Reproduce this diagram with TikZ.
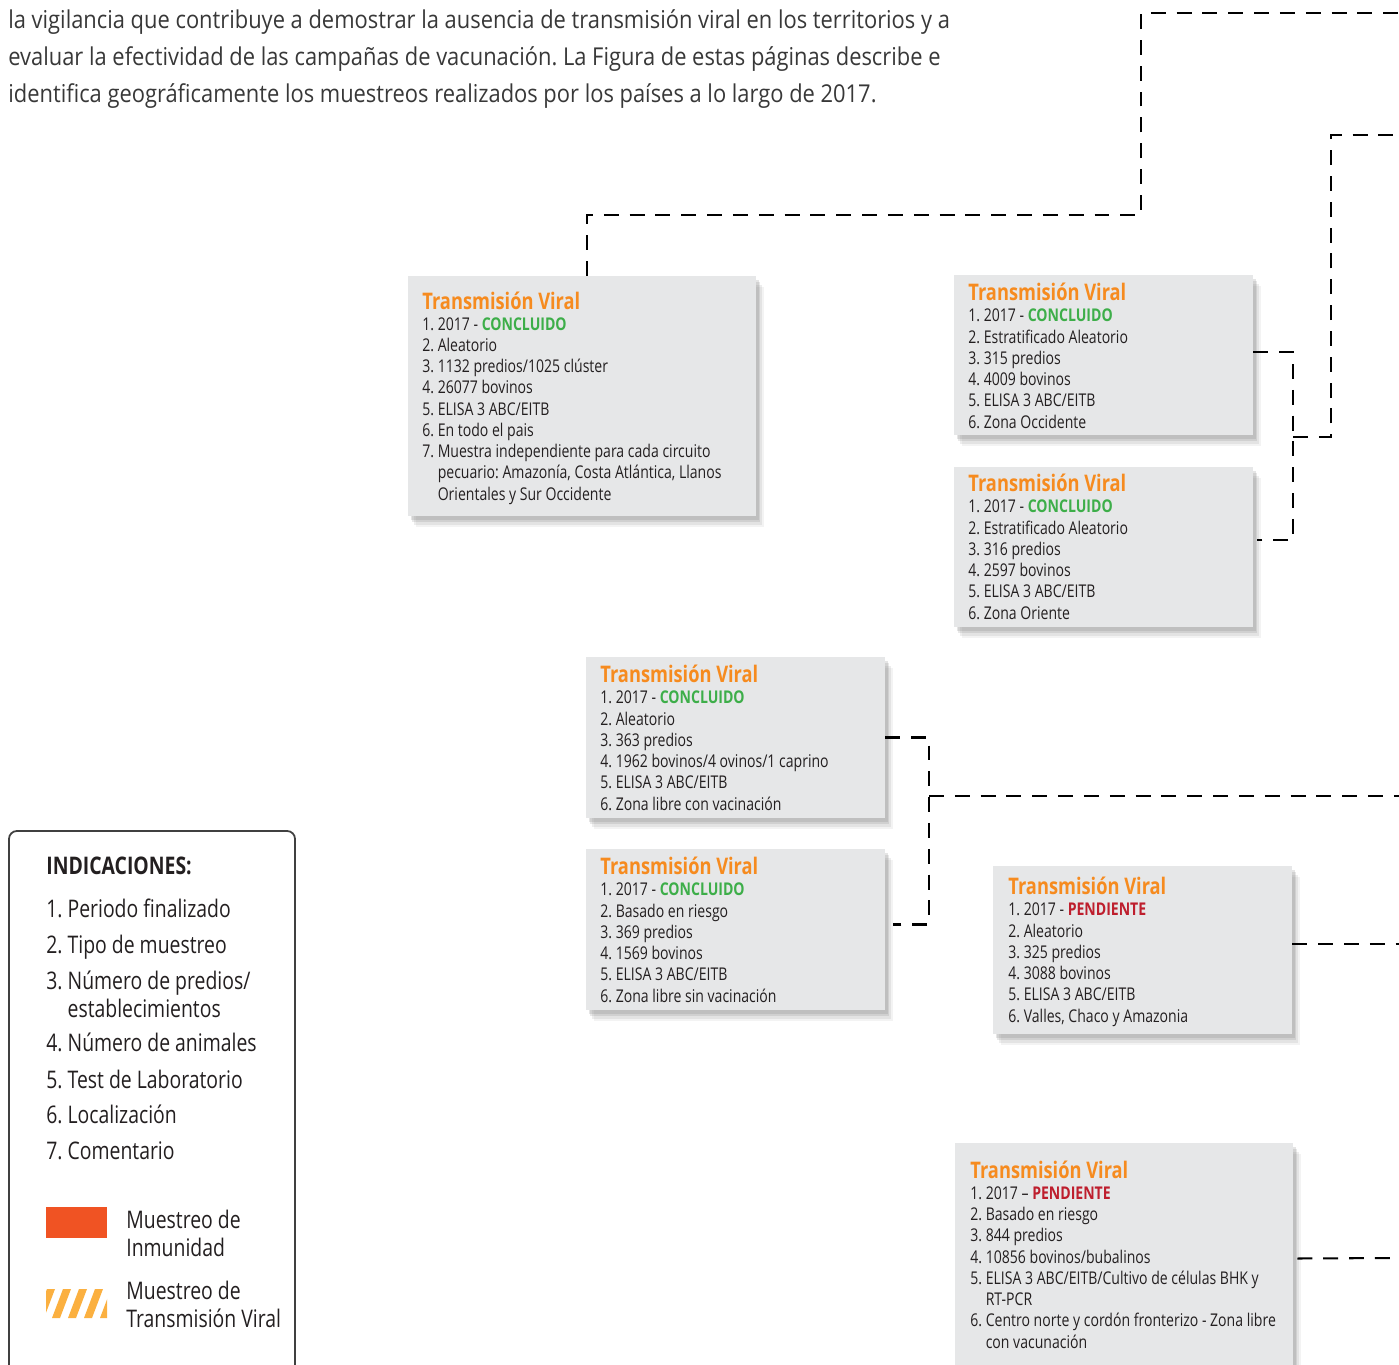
\documentclass[tikz,border=0pt]{standalone}
\usepackage{fontspec}
\setmainfont[FakeStretch=0.8]{Open Sans}
\newfontfamily\parafont[FakeStretch=0.89]{Open Sans}
\usetikzlibrary{calc,fit,shadows}
\frenchspacing

\definecolor{tvorange}{HTML}{F68B1F}
\definecolor{tvgreen}{HTML}{3DAE49}
\definecolor{tvred}{HTML}{BE1E2D}
\definecolor{boxgray}{HTML}{E6E7E8}
\definecolor{inkgray}{HTML}{231F20}
\definecolor{inmured}{HTML}{F05323}
\definecolor{stripeyellow}{HTML}{FBB040}

\newcommand{\tvtitle}{{\color{tvorange}\fontsize{13}{12}\selectfont\bfseries Transmisión Viral}}
\newcommand{\hecho}{{\color{tvgreen}\bfseries CONCLUIDO}}
\newcommand{\falta}{{\color{tvred}\bfseries PENDIENTE}}

% multi-line nodes sit on the baseline of their last line
\tikzset{
  tvbox/.style={fill=boxgray, inner sep=0pt,
    drop shadow={shadow xshift=1.5pt, shadow yshift=-2pt, opacity=0.2},
    drop shadow={shadow xshift=2.5pt, shadow yshift=-3.5pt, opacity=0.18},
    drop shadow={shadow xshift=3.5pt, shadow yshift=-5pt, opacity=0.14},
    drop shadow={shadow xshift=4.5pt, shadow yshift=-6pt, opacity=0.09}},
  tvtext/.style={anchor=base west, align=left, inner sep=0pt, text=inkgray,
    font=\fontsize{10}{12.07}\selectfont},
  link/.style={line width=1.15pt, dash pattern=on 8.5pt off 6.2pt},
  legtext/.style={anchor=base west, align=left, inner sep=0pt, text=inkgray,
    font=\fontsize{13.8}{15.9}\selectfont},
  paratext/.style={anchor=base west, inner sep=0pt, text=black!78,
    font=\parafont\fontsize{14}{21}\selectfont}
}

\begin{document}
\begin{tikzpicture}[x=0.02cm,y=-0.02cm]
\useasboundingbox (0,0) rectangle (1399,1365);
\fill[white] (0,0) rectangle (1399,1365);
\clip (0,0) rectangle (1399,1365);

% text above the figure
\node[paratext] (par1) at (8,29) {la vigilancia que contribuye a demostrar la ausencia de transmisión viral en los territorios y a};
\node[paratext] (par2) at (8,66) {evaluar la efectividad de las campañas de vacunación. La Figura de estas páginas describe e};
\node[paratext] (par3) at (8,103) {identifica geográficamente los muestreos realizados por los países a lo largo de 2017.};

% sampling boxes
\node[tvbox, fit={(408,276) (756,516)}] (ta) {};
\node[tvtext] (ta-txt) at (422,500) {\tvtitle\\
1. 2017 - \hecho\\
2. Aleatorio\\
3. 1132 predios/1025 clúster\\
4. 26077 bovinos\\
5. ELISA 3 ABC/EITB\\
6. En todo el pais\\
7. Muestra independiente para cada circuito\\
\hphantom{7. }pecuario: Amazonía, Costa Atlántica, Llanos\\
\hphantom{7. }Orientales y Sur Occidente};

\node[tvbox, fit={(954,275) (1253,435)}] (occ) {};
\node[tvtext] (occ-txt) at (968,428) {\tvtitle\\
1. 2017 - \hecho\\
2. Estratificado Aleatorio\\
3. 315 predios\\
4. 4009 bovinos\\
5. ELISA 3 ABC/EITB\\
6. Zona Occidente};

\node[tvbox, fit={(954,467) (1253,627)}] (ori) {};
\node[tvtext] (ori-txt) at (968,619) {\tvtitle\\
1. 2017 - \hecho\\
2. Estratificado Aleatorio\\
3. 316 predios\\
4. 2597 bovinos\\
5. ELISA 3 ABC/EITB\\
6. Zona Oriente};

\node[tvbox, fit={(586,657) (885,818)}] (conv) {};
\node[tvtext] (conv-txt) at (600,810) {\tvtitle\\
1. 2017 - \hecho\\
2. Aleatorio\\
3. 363 predios\\
4. 1962 bovinos/4 ovinos/1 caprino\\
5. ELISA 3 ABC/EITB\\
6. Zona libre con vacinación};

\node[tvbox, fit={(586,849) (885,1010)}] (sinv) {};
\node[tvtext] (sinv-txt) at (600,1002) {\tvtitle\\
1. 2017 - \hecho\\
2. Basado en riesgo\\
3. 369 predios\\
4. 1569 bovinos\\
5. ELISA 3 ABC/EITB\\
6. Zona libre sin vacinación};

\node[tvbox, fit={(993,866) (1292,1034)}] (vcha) {};
\node[tvtext] (vcha-txt) at (1008,1022) {\tvtitle\\
1. 2017 - \falta\\
2. Aleatorio\\
3. 325 predios\\
4. 3088 bovinos\\
5. ELISA 3 ABC/EITB\\
6. Valles, Chaco y Amazonia};

\node[tvbox, fit={(955,1143) (1293,1380)}] (cnor) {};
\node[tvtext] (cnor-txt) at (970,1348) {\tvtitle\\
1. 2017 -- \falta\\
2. Basado en riesgo\\
3. 844 predios\\
4. 10856 bovinos/bubalinos\\
5. ELISA 3 ABC/EITB/Cultivo de células BHK y\\
\hphantom{5. }RT-PCR\\
6. Centro norte y cordón fronterizo - Zona libre\\
\hphantom{6. }con vacunación};

% dashed connectors
\coordinate (bendA) at (1141,215);
\coordinate (outA) at (1399,13);
\coordinate (busO) at (1293,437);
\coordinate (riseO) at (1331,437);
\coordinate (outO) at (1399,135);
\coordinate (busV) at (929,796);
\coordinate (outV) at (1399,796);
\coordinate (outF) at (1399,944);
\coordinate (outG) at (1399,1258);

\draw[link] ($(ta.north)+(5,0)$) |- (bendA) |- (outA);
\draw[link] ($(occ.east)+(0,-3)$) -| (busO) |- ($(ori.east)+(4,-7)$);
\draw[link] (busO) -- (riseO) |- (outO);
\draw[link] (conv.east) -| (busV) |- ($(sinv.east)+(8,-5)$);
\draw[link] (busV) -- (outV);
\draw[link] ($(vcha.east)+(0,-6)$) -- (outF);
\draw[link] ($(cnor.east)+(4,-3)$) -- (outG);

% legend
\draw[draw=black!75, line width=1pt, rounded corners=4.5pt] (9,831) rectangle (295,1390);
\node[legtext, font=\fontsize{13.8}{15.9}\selectfont\bfseries] (indic) at (46,874) {INDICACIONES:};
\node[legtext] (leg1) at (46,917) {1. Periodo finalizado};
\node[legtext] (leg2) at (46,953) {2. Tipo de muestreo};
\node[legtext] (leg3) at (46,1017) {3. Número de predios/\\\hphantom{3. }establecimientos};
\node[legtext] (leg4) at (46,1051) {4. Número de animales};
\node[legtext] (leg5) at (46,1088) {5. Test de Laboratorio};
\node[legtext] (leg6) at (46,1123) {6. Localización};
\node[legtext] (leg7) at (46,1159) {7. Comentario};

\fill[inmured] (46,1207) rectangle (107,1238);
\node[legtext] (inmu) at (126,1256) {Muestreo de\\Inmunidad};

\begin{scope}
  \clip (46,1289) rectangle (107,1318);
  \foreach \i in {0,...,4}
    \fill[stripeyellow] (36+\i*16,1318) -- ++(8,0) -- ++(11,-29) -- ++(-8,0) -- cycle;
\end{scope}
\node[legtext] (trans) at (126,1327) {Muestreo de\\Transmisión Viral};
\end{tikzpicture}
\end{document}
